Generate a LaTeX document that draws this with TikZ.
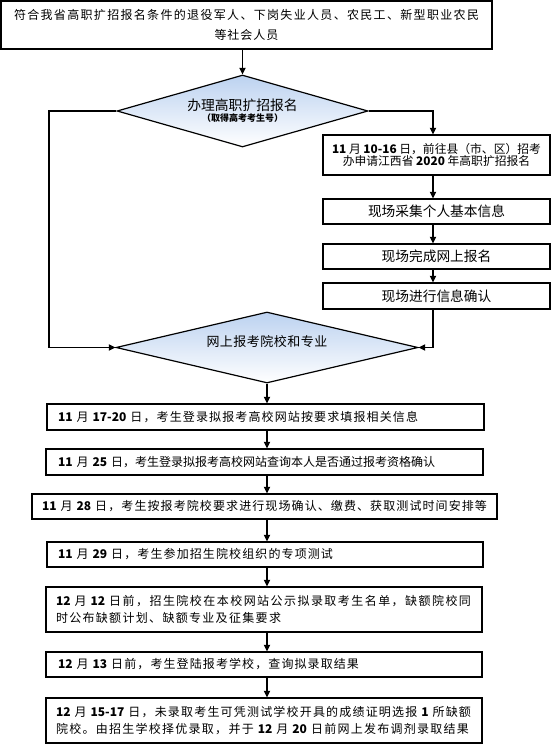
\documentclass[tikz,border=0pt]{standalone}
\usepackage{fontspec}
\setmainfont{Noto Sans CJK SC}
\usetikzlibrary{arrows.meta,shapes.geometric}
\definecolor{dtop}{RGB}{188,210,240}
\newXeTeXintercharclass\cjkcls
\newcount\cjkcc
\cjkcc="4E00 \loop \XeTeXcharclass\cjkcc=\cjkcls \advance\cjkcc 1 \ifnum\cjkcc<"A000 \repeat
\cjkcc="3000 \loop \XeTeXcharclass\cjkcc=\cjkcls \advance\cjkcc 1 \ifnum\cjkcc<"3040 \repeat
\cjkcc="FF00 \loop \XeTeXcharclass\cjkcc=\cjkcls \advance\cjkcc 1 \ifnum\cjkcc<"FFF0 \repeat
\XeTeXinterchartoks\cjkcls\cjkcls={\hskip 0pt plus 1fil\relax}
\XeTeXinterchartoks 0 \cjkcls={\hskip 0pt plus 1fil\relax}
\XeTeXinterchartoks\cjkcls 0 ={\hskip 0pt plus 1fil\relax}
\newcommand\fl[2]{\makebox[#1pt][s]{\XeTeXinterchartokenstate=1 #2}}
\newcommand\dg[1]{\textbf{#1}}
\tikzset{
  boxnode/.style={draw, line width=1.1pt, inner ysep=0pt},
  lbox/.style={boxnode, align=left, font=\fontsize{12}{16.8}\selectfont},
  cbox/.style={boxnode, align=center, inner xsep=0pt},
  dnode/.style={diamond, draw, line width=1.2pt, inner sep=0pt, align=center,
    top color=dtop, bottom color=white},
  conn/.style={line width=1.6pt},
  arr/.style={conn, -{Triangle[length=6.5pt,width=6pt]}}
}
\begin{document}
\begin{tikzpicture}[x=1pt,y=-1pt]
\useasboundingbox (0,0) rectangle (551,744);
% top
\node[cbox, minimum width=491pt, minimum height=48pt, font=\fontsize{12}{20}\selectfont] (top) at (246.5,25)
  {\fl{465}{符合我省高职扩招报名条件的退役军人、下岗失业人员、农民工、新型职业农民}\\\fl{64}{等社会人员}};
% diamond 1
\node[dnode, minimum width=251pt, minimum height=72pt, shape aspect=3.5] (d1) at (242.5,111)
  {\fontsize{13.8}{15}\selectfont 办理高职扩招报名\\[-1pt]{\fontsize{9}{10}\selectfont\bfseries\fl{81}{（取得高考考生号）}}};
% right column
\node[cbox, minimum width=227pt, minimum height=40pt, font=\fontsize{11.8}{12}\selectfont] (b2) at (436.5,155)
  {\dg{11} 月 \dg{10-16} 日，前往县（市、区）招考\\办申请江西省 \dg{2020} 年高职扩招报名};
\node[cbox, minimum width=227pt, minimum height=25pt, font=\fontsize{13.7}{15}\selectfont] (b3) at (436.5,211.5) {现场采集个人基本信息};
\node[cbox, minimum width=227pt, minimum height=25pt, font=\fontsize{13.7}{15}\selectfont] (b4) at (436.5,256.5) {现场完成网上报名};
\node[cbox, minimum width=227pt, minimum height=26pt, font=\fontsize{13.7}{15}\selectfont] (b5) at (436.5,296) {现场进行信息确认};
% diamond 2
\node[dnode, minimum width=302pt, minimum height=71pt, shape aspect=4.2] (d2) at (267,347.5)
  {\fontsize{13}{15}\selectfont\raisebox{1pt}[0pt][0pt]{\fl{121}{网上报考院校和专业}}};
% bottom boxes
\node[lbox, inner xsep=11pt, text width=415pt, minimum height=26pt] (bA) at (265.5,417)
  {\fl{360}{\dg{11} 月 \dg{17-20} 日，考生登录拟报考高校网站按要求填报相关信息}};
\node[lbox, inner xsep=12pt, text width=413pt, minimum height=26pt] (bB) at (264.5,462)
  {\fl{367}{\dg{11} 月 \dg{25} 日，考生登录拟报考高校网站查询本人是否通过报考资格确认}};
\node[lbox, inner xsep=10pt, text width=445pt, minimum height=25pt] (bC) at (264.5,506.5)
  {\fl{445}{\dg{11} 月 \dg{28} 日，考生按报考院校要求进行现场确认、缴费、获取测试时间安排等}};
\node[lbox, inner xsep=11pt, text width=414pt, minimum height=25pt] (bD) at (265,554.5)
  {\fl{275}{\dg{11} 月 \dg{29} 日，考生参加招生院校组织的专项测试}};
\node[lbox, inner xsep=10pt, text width=416pt, minimum height=45pt] (bE) at (264,609.5)
  {\fl{415}{\dg{12} 月 \dg{12} 日前，招生院校在本校网站公示拟录取考生名单，缺额院校同}\\\fl{225}{时公布缺额计划、缺额专业及征集要求}};
\node[lbox, inner xsep=12pt, text width=412pt, minimum height=25pt] (bF) at (264,664.5)
  {\fl{301}{\dg{12} 月 \dg{13} 日前，考生登陆报考学校，查询拟录取结果}};
\node[lbox, inner xsep=10pt, text width=416pt, minimum height=45pt] (bG) at (264,720.5)
  {\fl{415}{\dg{12} 月 \dg{15-17} 日，未录取考生可凭测试学校开具的成绩证明选报 \dg{1} 所缺额}\\\fl{413}{院校。由招生学校择优录取，并于 \dg{12} 月 \dg{20} 日前网上发布调剂录取结果}};
% helper coordinates
\coordinate (lc) at (49,111);
\coordinate (rc) at (433,111);
% connectors
\draw[arr] (top.south -| d1.north) -- (d1.north);
\draw[arr] (d1.west) -- (lc) |- (d2.west);
\draw[arr] (d1.east) -- (rc) -- (rc |- b2.north);
\draw[arr] (b2.south -| rc) -- (b3.north -| rc);
\draw[arr] (b3.south -| rc) -- (b4.north -| rc);
\draw[arr] (b4.south -| rc) -- (b5.north -| rc);
\draw[arr] (b5.south -| rc) |- (d2.east);
\draw[arr] (d2.south) -- (bA.north -| d2.south);
\draw[arr] (bA.south -| d2.south) -- (bB.north -| d2.south);
\draw[arr] (bB.south -| d2.south) -- (bC.north -| d2.south);
\draw[arr] (bC.south -| d2.south) -- (bD.north -| d2.south);
\draw[arr] (bD.south -| d2.south) -- (bE.north -| d2.south);
\draw[arr] (bE.south -| d2.south) -- (bF.north -| d2.south);
\draw[arr] (bF.south -| d2.south) -- (bG.north -| d2.south);
\end{tikzpicture}
\end{document}
